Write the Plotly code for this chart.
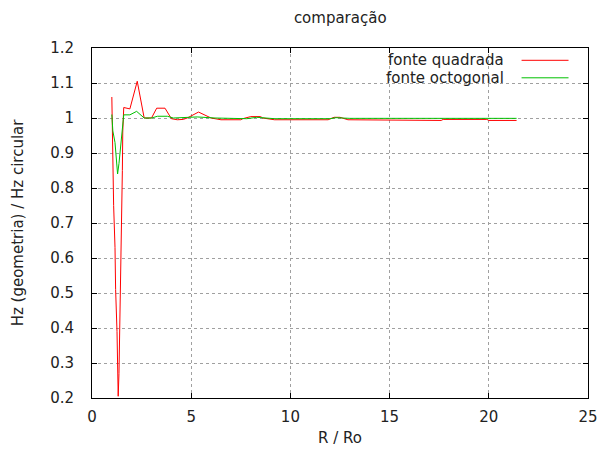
import plotly.graph_objects as go

# fonte quadrada (red)
quad_x = [1.0, 1.02, 1.09, 1.16, 1.19, 1.26, 1.29, 1.32, 1.36, 1.39, 1.43, 1.50, 1.53, 1.55, 1.60,
          1.91, 2.28, 2.63, 3.0, 3.26, 3.68, 4.0, 4.3, 4.6, 4.8, 5.37, 6.0, 6.5, 7.5, 7.6, 8.0, 8.5,
          8.6, 9.2, 11.9, 12.2, 12.5, 12.9, 13.9, 14.0, 17.6, 17.7, 19.9, 20.0, 21.4]
quad_y = [1.06, 0.945, 0.75, 0.63, 0.51, 0.39, 0.27, 0.205, 0.27, 0.36, 0.53, 0.74, 0.85, 0.96, 1.03,
          1.026, 1.105, 1.0, 1.0, 1.028, 1.028, 0.998, 0.995, 0.996, 1.0, 1.017, 1.0, 0.995, 0.995, 0.998, 1.004, 1.004,
          1.0, 0.995, 0.995, 1.002, 1.002, 0.995, 0.995, 0.993, 0.993, 0.996, 0.996, 0.993, 0.993]

# fonte octogonal (green)
oct_x = [1.0, 1.02, 1.05, 1.16, 1.24, 1.29, 1.36, 1.46, 1.52, 1.57, 1.60, 1.91, 2.25, 2.63, 3.0,
         3.3, 3.8, 4.1, 5.3, 6.2, 7.0, 7.8, 8.3, 8.8, 9.2, 12.0, 12.3, 12.6, 13.0, 21.4]
oct_y = [1.01, 0.975, 0.963, 0.93, 0.887, 0.84, 0.87, 0.926, 0.963, 1.0, 1.009, 1.009, 1.019, 1.0, 1.0,
         1.005, 1.005, 1.0, 1.003, 1.0, 0.998, 0.998, 1.002, 1.0, 0.998, 0.998, 1.001, 1.0, 0.999, 0.999]

series_names = ["fonte quadrada", "fonte octogonal"]
series_colors = ["#ff0000", "#00c000"]

x_ticks = [0, 5, 10, 15, 20, 25]
y_ticks = [0.2, 0.3, 0.4, 0.5, 0.6, 0.7, 0.8, 0.9, 1.0, 1.1, 1.2]
y_labels = ["0.2", "0.3", "0.4", "0.5", "0.6", "0.7", "0.8", "0.9", "1", "1.1", "1.2"]

FONT = "DejaVu Sans"
TXT = "#222222"
FS = 15

fig = go.Figure()
for xs, ys, nm, col in [(quad_x, quad_y, series_names[0], series_colors[0]),
                        (oct_x, oct_y, series_names[1], series_colors[1])]:
    fig.add_trace(go.Scatter(x=xs, y=ys, mode="lines", name=nm,
                             line=dict(color=col, width=1), showlegend=False))

W, H = 599, 451
L, R, T, B = 92, 10.5, 47.7, 53.3
pw, ph = W - L - R, H - T - B

def px2paper(px, py):
    return (px - L) / pw, (H - B - py) / ph

# gnuplot-style key: text right-aligned, sample line at right
rows_py = [60, 77.5]
for nm, col, py in zip(series_names, series_colors, rows_py):
    tx, ty = px2paper(506, py)
    fig.add_annotation(x=tx, y=ty, xref="paper", yref="paper", text=nm, showarrow=False,
                       xanchor="right", yanchor="middle", font=dict(family=FONT, size=FS, color=TXT))
    x0, _ = px2paper(522, py)
    x1, _ = px2paper(569, py)
    fig.add_shape(type="line", xref="paper", yref="paper", x0=x0, x1=x1, y0=ty, y1=ty,
                  line=dict(color=col, width=1))

# axis titles
ax_x, ax_y = px2paper(340, 438)
fig.add_annotation(x=ax_x, y=ax_y, xref="paper", yref="paper", text="R / Ro", showarrow=False,
                   xanchor="center", yanchor="middle", font=dict(family=FONT, size=FS, color=TXT))
ay_x, ay_y = px2paper(18, 222)
fig.add_annotation(x=ay_x, y=ay_y, xref="paper", yref="paper", text="Hz (geometria) / Hz circular",
                   showarrow=False, textangle=-90, xanchor="center", yanchor="middle",
                   font=dict(family=FONT, size=FS, color=TXT))

axis_common = dict(showgrid=True, gridcolor="#a0a0a0", griddash="dot", gridwidth=1,
                   showline=True, linecolor="black", linewidth=1, mirror="allticks",
                   ticks="inside", ticklen=5, tickcolor="black", zeroline=False, automargin=False,
                   tickfont=dict(family=FONT, size=FS, color=TXT))

fig.update_layout(
    width=W, height=H,
    margin=dict(l=L, r=R, t=T, b=B, autoexpand=False),
    paper_bgcolor="white", plot_bgcolor="white",
    title=dict(text="comparação", x=(L + pw / 2) / W, xanchor="center", y=1 - 18 / H, yanchor="middle",
               font=dict(family=FONT, size=FS, color=TXT)),
    xaxis=dict(range=[0, 25], tickvals=x_ticks, ticktext=[str(v) for v in x_ticks],
               ticklabelstandoff=5, **axis_common),
    yaxis=dict(range=[0.2, 1.2], tickvals=y_ticks, ticktext=y_labels,
               ticklabelstandoff=14, **axis_common),
)

fig.write_html("out.html")
